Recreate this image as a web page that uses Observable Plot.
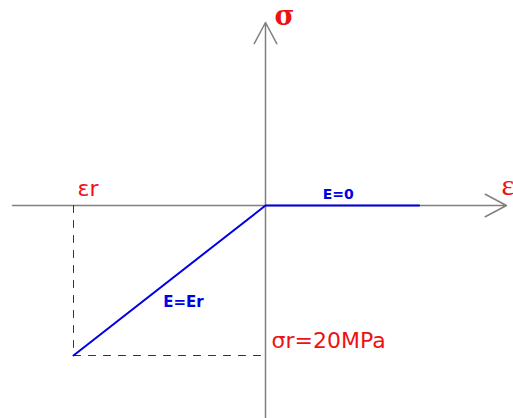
<!DOCTYPE html>
<html><head><meta charset="utf-8">
<script src="https://cdn.jsdelivr.net/npm/d3@7"></script>
<script src="https://cdn.jsdelivr.net/npm/@observablehq/plot@0.6"></script>
<style>html,body{margin:0;padding:0;background:#fff;overflow:hidden}</style>
</head><body><div id="chart"></div>
<script>
// Stress–strain law (strain in units of εr, stress in MPa)
const strain = [-1, 0, 0.8];
const stress = [-20, 0, 0];
const epsR = -1;          // εr
const sigR = -20;         // σr = 20 MPa (compression)
const xExtent = [-1.318, 1.255];   // strain axis
const yExtent = [-28.4, 24.4];     // stress axis
const axisNames = ["σ", "ε"];
const segmentNames = ["E=0", "E=Er"];
const refNames = ["εr", "σr=20MPa"];

const red = "#ee1111", blue = "#0000e6", grey = "#808080";
const sans = "DejaVu Sans, Verdana, sans-serif";
const serif = "Liberation Serif, Times New Roman, serif";

const chart = Plot.plot({
  width: 513, height: 418, margin: 0,
  x: {domain: [-265/192, 248/192], axis: null},
  y: {domain: [-213/7.5, 205/7.5], axis: null},
  style: {background: "#fff"},
  marks: [
    // axes with arrow heads
    Plot.arrow([0], {x1: xExtent[0], x2: xExtent[1], y1: 0, y2: 0, stroke: grey, strokeWidth: 1.5, headLength: 24, headAngle: 56}),
    Plot.arrow([0], {x1: 0, x2: 0, y1: yExtent[0], y2: yExtent[1], stroke: grey, strokeWidth: 1.5, headLength: 24, headAngle: 56}),
    // dashed reference lines
    Plot.line([[epsR, 0], [epsR, sigR], [0, sigR]], {stroke: "#333", strokeWidth: 1, strokeDasharray: "7,8"}),
    // constitutive law
    Plot.line(strain.map((e, i) => [e, stress[i]]), {stroke: blue, strokeWidth: 2}),
    // axis names
    Plot.text([axisNames[0]], {x: 0, y: yExtent[1], text: d => d, textAnchor: "start", lineAnchor: "middle", dx: 9, dy: -6, fill: red, fontSize: 27, fontWeight: "bold", fontFamily: "DejaVu Serif, serif"}),
    Plot.text([axisNames[1]], {x: xExtent[1], y: 0, text: d => d, textAnchor: "start", lineAnchor: "middle", dx: -5, dy: -20, fill: red, fontSize: 30, fontFamily: serif}),
    // reference values
    Plot.text([refNames[0]], {x: epsR, y: 0, text: d => d, textAnchor: "start", lineAnchor: "middle", dx: 4, dy: -17, fill: red, fontSize: 22, fontFamily: sans}),
    Plot.text([refNames[1]], {x: 0, y: sigR, text: d => d, textAnchor: "start", lineAnchor: "middle", dx: 6, dy: -15, fill: red, fontSize: 22, fontFamily: sans}),
    // segment names
    Plot.text([segmentNames[0]], {x: (strain[1] + strain[2]) / 2, y: stress[1], text: d => d, textAnchor: "middle", lineAnchor: "middle", dx: -4, dy: -11, fill: blue, fontSize: 14, fontWeight: "bold", fontFamily: sans}),
    Plot.text([segmentNames[1]], {x: (strain[0] + strain[1]) / 2, y: (stress[0] + stress[1]) / 2, text: d => d, textAnchor: "middle", lineAnchor: "middle", dx: 14, dy: 22, fill: blue, fontSize: 15, fontWeight: "bold", fontFamily: sans})
  ]
});
document.getElementById("chart").append(chart);
</script>
</body></html>
